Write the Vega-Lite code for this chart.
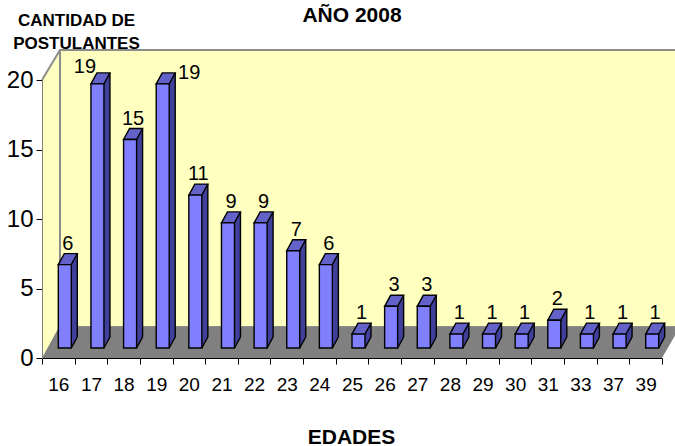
{
  "$schema": "https://vega.github.io/schema/vega-lite/v6.json",
  "autosize": {"type": "none"},
  "width": 620,
  "height": 278,
  "padding": {"left": 42, "top": 80, "right": 13, "bottom": 88},
  "background": "white",
  "config": {"view": {"stroke": null}, "font": "Liberation Sans"},
  "title": {
    "text": "AÑO 2008",
    "anchor": "middle",
    "frame": "group",
    "font": "Liberation Sans",
    "fontSize": 21,
    "fontWeight": "bold",
    "color": "black",
    "baseline": "alphabetic",
    "offset": -32
  },
  "datasets": {
    "edades": [
      {"edad": "16", "n": 6},
      {"edad": "17", "n": 19},
      {"edad": "18", "n": 15},
      {"edad": "19", "n": 19},
      {"edad": "20", "n": 11},
      {"edad": "21", "n": 9},
      {"edad": "22", "n": 9},
      {"edad": "23", "n": 7},
      {"edad": "24", "n": 6},
      {"edad": "25", "n": 1},
      {"edad": "26", "n": 3},
      {"edad": "27", "n": 3},
      {"edad": "28", "n": 1},
      {"edad": "29", "n": 1},
      {"edad": "30", "n": 1},
      {"edad": "31", "n": 2},
      {"edad": "33", "n": 1},
      {"edad": "37", "n": 1},
      {"edad": "39", "n": 1}
    ]
  },
  "layer": [
    {
      "data": {"values": [{"pared": "fondo"}]},
      "layer": [
        {
          "mark": {"type": "rect", "fill": "#FFFFC0", "x2Offset": 18, "yOffset": -30},
          "encoding": {
            "x": {"datum": 0, "type": "quantitative", "scale": {"domain": [0, 1]}, "axis": null},
            "x2": {"datum": 0},
            "y": {"datum": 20, "type": "quantitative", "scale": {"domain": [0, 20]}},
            "y2": {"datum": 0}
          }
        },
        {
          "mark": {"type": "point", "shape": "M-2,1 L-2,-32 L18,-32 L18,-30 Z", "size": 4, "filled": true, "fill": "white", "opacity": 1, "strokeWidth": 0},
          "encoding": {
            "x": {"datum": 0, "type": "quantitative"},
            "y": {"datum": 20, "type": "quantitative"}
          }
        },
        {
          "mark": {"type": "rect", "fill": "#FFFFC0", "stroke": "#8C8C8C", "strokeWidth": 2, "xOffset": 18, "x2Offset": 18, "yOffset": -30, "y2Offset": -31},
          "encoding": {
            "x": {"datum": 0, "type": "quantitative"},
            "x2": {"datum": 1},
            "y": {"datum": 20, "type": "quantitative"},
            "y2": {"datum": 0}
          }
        },
        {
          "mark": {"type": "point", "shape": "M0,0 L18,-30", "size": 4, "filled": false, "fill": null, "stroke": "#8C8C8C", "strokeWidth": 2, "opacity": 1},
          "encoding": {
            "x": {"datum": 0, "type": "quantitative"},
            "y": {"datum": 20, "type": "quantitative"}
          }
        },
        {
          "mark": {"type": "rect", "fill": "#808080", "x2Offset": 18, "y2Offset": -31},
          "encoding": {
            "x": {"datum": 0, "type": "quantitative"},
            "x2": {"datum": 1},
            "y": {"datum": 0, "type": "quantitative"},
            "y2": {"datum": 0}
          }
        },
        {
          "mark": {"type": "point", "shape": "M0,0 L0,-31 L17,-31 Z", "size": 4, "filled": true, "fill": "#FFFFC0", "opacity": 1, "strokeWidth": 0},
          "encoding": {
            "x": {"datum": 0, "type": "quantitative"},
            "y": {"datum": 0, "type": "quantitative"}
          }
        },
        {
          "mark": {"type": "point", "shape": "M0,0 L18,-31 L30,-31 L30,3 L0,3 Z", "size": 4, "filled": true, "fill": "white", "opacity": 1, "strokeWidth": 0},
          "encoding": {
            "x": {"datum": 1, "type": "quantitative"},
            "y": {"datum": 0, "type": "quantitative"}
          }
        }
      ]
    },
    {
      "data": {"name": "edades"},
      "encoding": {
        "x": {
          "field": "edad",
          "type": "ordinal",
          "sort": null,
          "scale": {"paddingInner": 0, "paddingOuter": 0},
          "axis": {
            "orient": "bottom",
            "title": "EDADES",
            "titleFont": "Liberation Sans",
            "titleFontSize": 21,
            "titleFontWeight": "bold",
            "titleColor": "black",
            "titleBaseline": "alphabetic",
            "titleAlign": "center",
            "titleAnchor": "start",
            "titleX": 309,
            "titleY": 85,
            "labelAngle": 0,
            "labelFont": "Liberation Sans",
            "labelFontSize": 19,
            "labelColor": "black",
            "labelPadding": 11,
            "tickBand": "extent",
            "tickSize": 6,
            "tickColor": "black",
            "domainColor": "black",
            "grid": false,
            "zindex": 1
          }
        },
        "y": {
          "field": "n",
          "type": "quantitative",
          "scale": {"domain": [0, 20]},
          "axis": {
            "orient": "left",
            "values": [0, 5, 10, 15, 20],
            "title": ["CANTIDAD DE", "POSTULANTES"],
            "titleFont": "Liberation Sans",
            "titleFontSize": 17,
            "titleFontWeight": "bold",
            "titleColor": "black",
            "titleAngle": 0,
            "titleAlign": "center",
            "titleBaseline": "alphabetic",
            "titleAnchor": "start",
            "titleX": 34,
            "titleY": -55,
            "titleLineHeight": 23,
            "labelFont": "Liberation Sans",
            "labelFontSize": 24,
            "labelColor": "black",
            "labelPadding": 3,
            "tickSize": 6,
            "tickColor": "black",
            "domainColor": "#808080",
            "grid": false,
            "zindex": 1
          }
        }
      },
      "layer": [
        {
          "mark": {"type": "bar", "width": 13, "xOffset": 12.5, "yOffset": -21, "y2Offset": -21, "fill": "#40409A", "strokeWidth": 0},
          "encoding": {"y2": {"datum": 0}}
        },
        {
          "mark": {"type": "point", "shape": "M13,0 L13,-11.5 L19.5,-11.5 Z", "size": 4, "filled": true, "fill": "#40409A", "opacity": 1, "strokeWidth": 0, "yOffset": -10},
          "encoding": {"y": {"datum": 0, "type": "quantitative"}}
        },
        {
          "mark": {"type": "rule", "xOffset": 19, "yOffset": -21, "y2Offset": -21, "color": "black", "strokeWidth": 1.4},
          "encoding": {"y2": {"datum": 0}}
        },
        {
          "mark": {"type": "point", "shape": "M13,0 L19,-11", "size": 4, "filled": false, "fill": null, "stroke": "black", "strokeWidth": 1.4, "opacity": 1, "yOffset": -10},
          "encoding": {"y": {"datum": 0, "type": "quantitative"}}
        },
        {
          "mark": {"type": "point", "shape": "M0,0 L13,0 L19,-11 L6,-11 Z", "size": 4, "filled": true, "fill": "#6262C8", "stroke": "black", "strokeWidth": 1.4, "opacity": 1, "yOffset": -10}
        },
        {
          "mark": {"type": "bar", "width": 13, "xOffset": 6.5, "yOffset": -10, "y2Offset": -10, "fill": "#8080FF", "stroke": "black", "strokeWidth": 1.4},
          "encoding": {"y2": {"datum": 0}}
        },
        {
          "transform": [{"filter": "datum.edad != '17' && datum.edad != '19'"}],
          "mark": {"type": "text", "dx": 9.5, "dy": -25, "baseline": "alphabetic", "align": "center", "font": "Liberation Sans", "fontSize": 20, "color": "black"},
          "encoding": {"text": {"field": "n"}}
        },
        {
          "transform": [{"filter": "datum.edad == '17'"}],
          "mark": {"type": "text", "dx": -6, "dy": -21, "baseline": "alphabetic", "align": "center", "font": "Liberation Sans", "fontSize": 20, "color": "black"},
          "encoding": {"text": {"field": "n"}}
        },
        {
          "transform": [{"filter": "datum.edad == '19'"}],
          "mark": {"type": "text", "dx": 33, "dy": -15, "baseline": "alphabetic", "align": "center", "font": "Liberation Sans", "fontSize": 20, "color": "black"},
          "encoding": {"text": {"field": "n"}}
        }
      ]
    }
  ],
  "resolve": {"scale": {"x": "independent"}}
}
